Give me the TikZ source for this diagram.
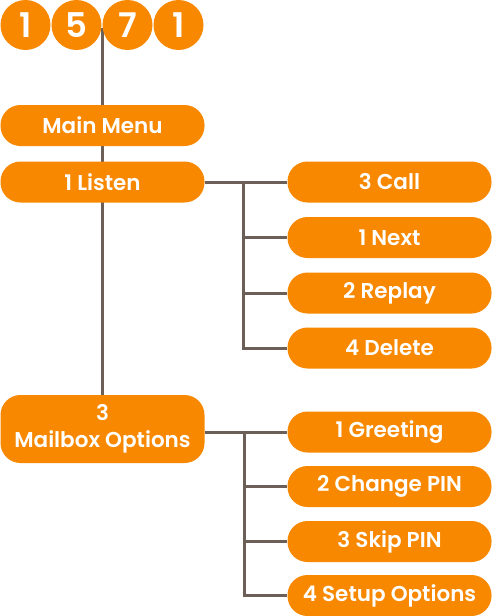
\documentclass[tikz,border=0pt]{standalone}
\usepackage{fontspec}
\setmainfont{Poppins}[BoldFont={Poppins SemiBold}]
\usetikzlibrary{backgrounds}
\definecolor{org}{HTML}{F78800}
\definecolor{ln}{HTML}{6B5F57}
\begin{document}
\begin{tikzpicture}[x=1pt,y=-1pt,
 pill/.style={fill=org, rounded corners=20pt, minimum width=204pt, minimum height=41pt, text=white, font=\bfseries\fontsize{21.5}{27}\selectfont, inner sep=0pt, align=center},
 digit/.style={circle, fill=org, minimum size=50pt, text=white, font=\bfseries\fontsize{34}{34}\selectfont, inner sep=0pt},
 conn/.style={draw=ln, line width=3pt}]
\useasboundingbox (0,0) rectangle (492,616);
\node[digit] (d1) at (25.5,25) {1};
\node[digit] (d2) at (76.5,25) {5};
\node[digit] (d3) at (127.5,25) {7};
\node[digit] (d4) at (178.5,25) {1};
\coordinate (top) at (102,28);
\node[pill] (main) at (102.5,125.5) {Main Menu};
\node[pill] (listen) at (102.5,182) {1 Listen};
\node[pill, minimum height=68pt] (mailbox) at (102.5,429) {3\\Mailbox Options};
\node[pill] (call) at (389.5,182) {3 Call};
\node[pill] (next) at (389.5,237.5) {1 Next};
\node[pill] (replay) at (389.5,293) {2 Replay};
\node[pill] (delete) at (389.5,348) {4 Delete};
\node[pill] (greet) at (389.5,432) {1 Greeting};
\node[pill] (change) at (389.5,486.5) {2 Change PIN};
\node[pill] (skip) at (389.5,541.5) {3 Skip PIN};
\node[pill] (setup) at (389.5,595.5) {4 Setup Options};
\begin{pgfonlayer}{background}
\draw[conn] (top) -- (top|-mailbox.north);
\coordinate (b1) at (243,182);
\draw[conn] (listen.east) -- (call.west);
\draw[conn] (b1) |- (delete.west);
\draw[conn] (b1|-next.west) -- (next.west);
\draw[conn] (b1|-replay.west) -- (replay.west);
\coordinate (b2) at (244,432);
\draw[conn] (mailbox.east|-greet.west) -- (greet.west);
\draw[conn] (b2) |- (setup.west);
\draw[conn] (b2|-change.west) -- (change.west);
\draw[conn] (b2|-skip.west) -- (skip.west);
\end{pgfonlayer}
\end{tikzpicture}
\end{document}
